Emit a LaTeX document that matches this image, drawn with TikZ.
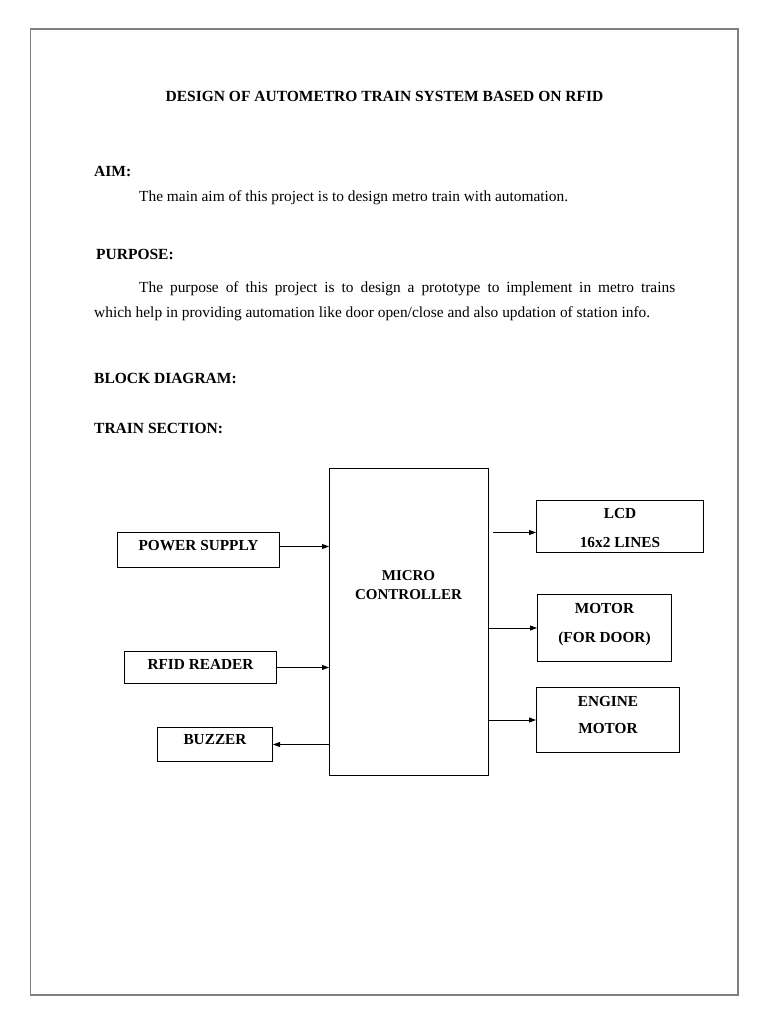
\documentclass[tikz,border=0pt]{standalone}
\usepackage{fontspec}
\setmainfont{Liberation Serif}
\usetikzlibrary{arrows.meta,calc}
\begin{document}
\begin{tikzpicture}[x=1pt,y=-1pt,
  txt/.style={inner sep=0pt, font=\fontsize{15.4}{25}\selectfont},
  hd/.style={inner sep=0pt, font=\fontsize{15.5}{25}\selectfont\bfseries},
  blk/.style={draw, line width=1pt, inner sep=0pt, font=\fontsize{15.3}{29}\selectfont\bfseries, align=center},
  arr/.style={line width=0.8pt, -{Triangle[length=7pt,width=5pt]}}]
\path[use as bounding box] (0,0) rectangle (768,1024);
\draw[black!50, line width=1.3pt] (30.5,29) rectangle (738,995);
% texts
\node[hd, anchor=base] (title) at (384.5,102) {DESIGN OF AUTOMETRO TRAIN SYSTEM BASED ON RFID};
\node[hd, anchor=base west] (aim) at (94,177) {AIM:};
\node[txt, anchor=base west] (aimtext) at (139,202) {The main aim of this project is to design metro train with automation.};
\node[hd, anchor=base west] (purpose) at (96,259) {PURPOSE:};
\node[txt, anchor=base west] (purp1) at (139,292) {\makebox[536pt][s]{The purpose of this project is to design a prototype to implement in metro trains}};
\node[txt, anchor=base west] (purp2) at (94,317) {which help in providing automation like door open/close and also updation of station info.};
\node[hd, anchor=base west] (block) at (94,383) {BLOCK DIAGRAM:};
\node[hd, anchor=base west] (train) at (94,433) {TRAIN SECTION:};
% diagram
\node[blk, minimum width=159pt, minimum height=307pt, anchor=north west] (mc) at (329,468) {};
\node[inner sep=0pt, font=\fontsize{15}{19}\selectfont\bfseries, align=center] (mctext) at (408.5,585) {MICRO\\CONTROLLER};
\node[blk, minimum width=162pt, minimum height=35pt, anchor=north west, text height=10pt, text depth=10pt] (ps) at (117,532) {POWER SUPPLY};
\node[blk, minimum width=152pt, minimum height=32pt, anchor=north west, text height=10pt, text depth=6pt] (rfid) at (124,651) {RFID READER};
\node[blk, minimum width=115pt, minimum height=34pt, anchor=north west, text height=10pt, text depth=10pt] (buzzer) at (157,727) {BUZZER};
\node[blk, minimum width=167pt, minimum height=52pt, anchor=north west] (lcd) at (536,500) {\rule{0pt}{14pt}LCD\\16x2 LINES};
\node[blk, minimum width=134pt, minimum height=67pt, anchor=north west] (motor) at (537,594) {MOTOR\\(FOR DOOR)\rule[-9.5pt]{0pt}{9.5pt}};
\node[blk, minimum width=143pt, minimum height=65pt, anchor=north west, font=\fontsize{15.3}{27}\selectfont\bfseries] (engine) at (536,687) {ENGINE\\MOTOR\rule[-11pt]{0pt}{11pt}};
% connectors
\draw[arr] ([yshift=3.5pt]ps.east) -- ([yshift=3.5pt]ps.east -| mc.west);
\draw[arr] (rfid.east) -- (rfid.east -| mc.west);
\draw[arr] (buzzer.east -| mc.west) -- (buzzer.east);
\draw[arr] ($(mc.east |- lcd.west)+(4,6)$) -- ($(lcd.west)+(0,6)$);
\draw[arr] (mc.east |- motor.west) -- (motor.west);
\draw[arr] (mc.east |- engine.west) -- (engine.west);
\end{tikzpicture}
\end{document}
